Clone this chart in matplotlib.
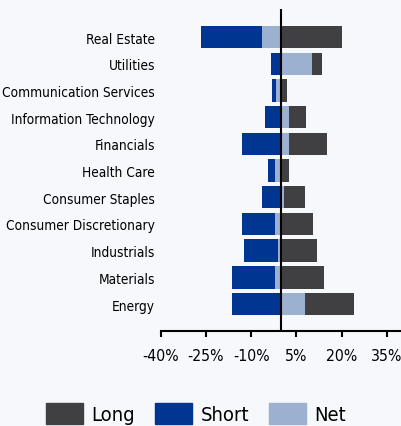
import matplotlib
matplotlib.use('Agg')
import matplotlib.pyplot as plt
from matplotlib.patches import Patch

plt.rcParams['font.family'] = ['DejaVu Sans']
plt.rcParams['font.stretch'] = 'condensed'

# sectores, de arriba hacia abajo
sectores = ['Real Estate', 'Utilities', 'Communication Services',
            'Information Technology', 'Financials', 'Health Care',
            'Consumer Staples', 'Consumer Discretionary', 'Industrials',
            'Materials', 'Energy']
largo = [20.0, 13.5, 1.8, 8.3, 15.0, 2.4, 7.7, 10.4, 11.7, 14.3, 24.0]
corto = [-26.5, -3.5, -3.0, -5.5, -13.0, -4.5, -6.5, -13.0, -12.4, -16.3, -16.3]
neto = [-6.5, 10.0, -1.8, 2.5, 2.4, -2.2, 1.0, -2.2, -1.0, -2.2, 7.7]
ticks_x = [-40, -25, -10, 5, 20, 35]

c_largo = '#404042'
c_corto = '#003591'
c_neto = '#9bb1cf'
fondo = '#f6f8fc'

fig = plt.figure(figsize=(4.01, 4.27), dpi=100, facecolor=fondo)
ax = fig.add_axes([160.7 / 401, 95 / 427, 241.3 / 401, 322 / 427])
ax.set_facecolor(fondo)

pos = list(range(len(sectores)))[::-1]
alto = 0.84
ax.barh(pos, largo, height=alto, color=c_largo, zorder=2)
ax.barh(pos, corto, height=alto, color=c_corto, zorder=2)
ax.barh(pos, neto, height=alto, color=c_neto, zorder=3)
ax.axvline(0, color='black', lw=1.5, zorder=4)

ax.set_xlim(-40, 40)
ax.set_ylim(-1.01, 11.05)
ax.set_yticks(pos)
ax.set_yticklabels(sectores, fontsize=9.8)
ax.set_xticks(ticks_x)
ax.set_xticklabels([f'{t}%' for t in ticks_x], fontsize=11.3)
ax.tick_params(axis='y', length=0, pad=4)
ax.tick_params(axis='x', length=4.5, width=1.5, pad=8, color='black')
for lado in ['top', 'right', 'left']:
    ax.spines[lado].set_visible(False)
ax.spines['bottom'].set_linewidth(1.5)

manijas = [Patch(color=c_largo, label='Long'),
           Patch(color=c_corto, label='Short'),
           Patch(color=c_neto, label='Net')]
fig.legend(handles=manijas, loc='upper center', bbox_to_anchor=(196 / 401, 23 / 427),
           ncol=3, frameon=False, fontsize=14.5, handlelength=1.84, handleheight=1.2,
           handletextpad=0.4, columnspacing=1.0, borderpad=0, borderaxespad=0)

plt.savefig('out.png', dpi=100, facecolor=fondo)
